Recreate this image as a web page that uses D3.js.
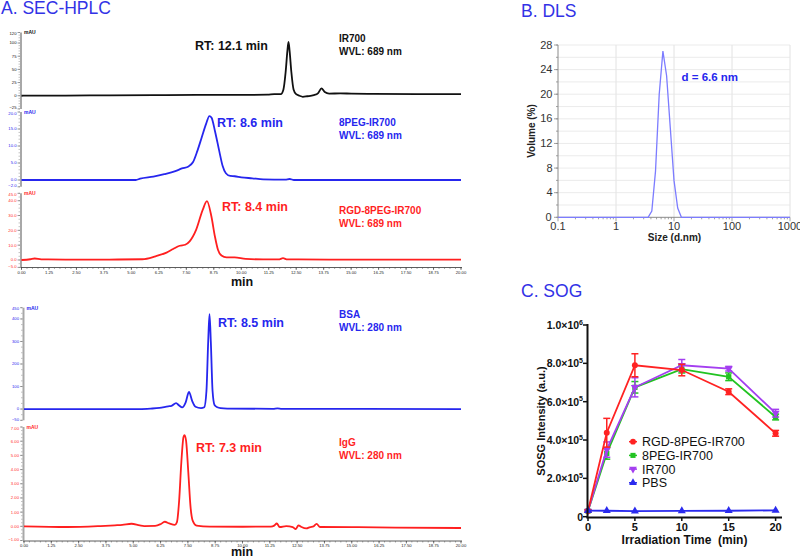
<!DOCTYPE html>
<html><head><meta charset="utf-8">
<script src="https://cdn.jsdelivr.net/npm/d3@7"></script>
<style>body{margin:0;background:#fff}svg{display:block}text{font-family:"Liberation Sans",Arial,sans-serif}</style>
</head><body><svg id="c" width="800" height="558"></svg>
<script>
// ---------- DATA ----------
// SEC-HPLC chromatograms: [time (min), signal (mAU)]
const ir700Trace = [[0,0],[2,0.3],[4,0.8],[6,1.2],[8,1.5],[10,1.5],[11.2,2],[11.5,3],[11.8,3],[11.92,12],[12.02,45],[12.1,85],[12.15,102],[12.2,85],[12.28,45],[12.38,12],[12.5,3],[12.65,0],[12.8,-2],[13.0,-1],[13.3,1],[13.5,5],[13.65,14],[13.8,7],[14.0,4],[14.5,4.5],[15,4],[16,3.5],[18,3],[20,3]];
const peg8Trace = [[0,0],[5.2,0],[5.4,0.4],[6.0,1.0],[6.5,1.7],[7.0,2.6],[7.3,3.4],[7.6,4.0],[7.8,5.2],[8.0,8.5],[8.2,12.5],[8.4,16.5],[8.55,18.8],[8.65,18.3],[8.8,14.5],[9.0,8.5],[9.15,4.2],[9.3,2.0],[9.5,1.2],[9.7,1.1],[10.0,0.8],[10.5,0.5],[11,0.2],[12,0.1],[12.2,0.3],[12.4,0],[20,0]];
const rgdTrace = [[0,0],[0.4,0.5],[0.6,1.0],[0.9,0.4],[2,0.3],[4,0.3],[5.5,0.5],[6.1,2.5],[6.6,5],[6.9,7.4],[7.2,9.6],[7.45,10.3],[7.65,12.6],[7.95,20.5],[8.25,34],[8.44,39.7],[8.64,29.5],[8.8,16],[8.94,6.9],[9.1,3],[9.33,1.7],[9.7,1.7],[10.2,0.7],[11,0.4],[11.7,0.4],[11.9,1.2],[12.1,0.4],[14,0.3],[20,0.3]];
const bsaTrace = [[0,0],[5.3,0],[5.8,2],[6.2,5],[6.6,12],[6.75,14],[6.96,26],[7.1,16],[7.24,7],[7.4,30],[7.55,76],[7.7,35],[7.85,10],[8.1,4],[8.25,8],[8.35,80],[8.43,300],[8.49,421],[8.55,300],[8.63,80],[8.72,18],[8.85,8],[9.0,4],[9.3,2],[11.4,1],[11.6,3],[11.8,1],[20,0]];
const iggTrace = [[0,0],[2,-0.05],[3.5,0.02],[4.16,0.07],[4.5,0.1],[4.92,0.18],[5.3,0.06],[5.5,0.02],[6.0,0.03],[6.25,0.15],[6.44,0.32],[6.65,0.2],[6.9,0.1],[7.0,0.3],[7.1,1.8],[7.2,4.5],[7.3,6.3],[7.35,6.43],[7.42,6.0],[7.52,3.8],[7.62,1.4],[7.72,0.4],[7.9,0.05],[8.5,-0.02],[10,-0.03],[11.3,-0.02],[11.45,0.05],[11.57,0.2],[11.7,-0.05],[12.0,0.02],[12.3,-0.05],[12.44,-0.2],[12.56,0.07],[12.7,-0.05],[12.92,-0.15],[13.1,-0.05],[13.25,0.0],[13.39,0.17],[13.55,-0.05],[15,-0.06],[17,-0.09],[20,-0.12]];
const hplcXTicks = [0,1.25,2.5,3.75,5,6.25,7.5,8.75,10,11.25,12.5,13.75,15,16.25,17.5,18.75,20];
const ir700YTicks = [-25,0,25,50,75,100,120];
const peg8YTicks = [-2,0,5,10,15,20];
const rgdYTicks = [-5,0,10,20,30,40,45];
const bsaYTicks = [-50,0,100,200,300,400,450];
const iggYTicks = [-1,0,1,2,3,4,5,6,7];

// DLS size distribution
const dlsSize = [0.1, 3.58, 4.145, 4.801, 5.56, 6.439, 7.456, 8.635, 10.0, 11.58, 13.41, 15.54, 1000];
const dlsVolume = [0, 0, 1.0, 7.5, 20.0, 27.0, 23.0, 14.5, 6.0, 1.5, 0, 0, 0];
const dlsXTicks = [0.1, 1, 10, 100, 1000];
const dlsYTicks = [0, 4, 8, 12, 16, 20, 24, 28];

// SOG
const sogTime = [0, 2, 5, 10, 15, 20];
const sogNames = ["RGD-8PEG-IR700", "8PEG-IR700", "IR700", "PBS"];
const rgdMean = [3.0e4, 4.38e5, 7.9e5, 7.65e5, 6.52e5, 4.35e5];
const rgdErr  = [0.5e4, 0.75e5, 0.6e5, 0.3e5, 0.15e5, 0.15e5];
const peg8Mean = [3.0e4, 3.3e5, 6.75e5, 7.7e5, 7.3e5, 5.2e5];
const peg8Err  = [0.5e4, 0.3e5, 0.3e5, 0.2e5, 0.2e5, 0.15e5];
const ir700Mean = [3.0e4, 3.5e5, 6.75e5, 7.9e5, 7.72e5, 5.4e5];
const ir700Err  = [0.5e4, 0.4e5, 0.5e5, 0.3e5, 0.12e5, 0.2e5];
const pbsMean = [3.2e4, 3.1e4, 2.9e4, 3.0e4, 3.1e4, 3.3e4];
const pbsErr  = [0, 0, 0, 0, 0, 0];
const sogYTicks = [0, 2e5, 4e5, 6e5, 8e5, 1e6];

// ---------- DRAW ----------
const svg = d3.select("#c");
const BLUE = "#2626ee", RED = "#ff1f1f", BLACK = "#111";
const TITLE = "#3232e6";

function title(x, y, t) {
  svg.append("text").attr("x", x).attr("y", y).attr("font-size", 17.5).attr("fill", TITLE).text(t);
}
title(1, 13.5, "A. SEC-HPLC");
title(521, 16.5, "B. DLS");
title(521, 296.5, "C. SOG");

// HPLC panels
const hplcPanels = [
  {data: ir700Trace, color: BLACK, dom: [-25,120], rng: [108.9,32.5], ticks: ir700YTicks, fmt: d3.format("d"), minor: 5, x0: 21.5,
   rt: "RT: 12.1 min", rtx: 195, rty: 50, name: "IR700", wvl: "WVL: 689 nm", ny: 41.5},
  {data: peg8Trace, color: BLUE, dom: [-2,20], rng: [186.8,112], ticks: peg8YTicks, fmt: d3.format(".1f"), minor: 1, x0: 21.5,
   rt: "RT: 8.6 min", rtx: 217, rty: 127, name: "8PEG-IR700", wvl: "WVL: 689 nm", ny: 125.5},
  {data: rgdTrace, color: RED, dom: [-5,45], rng: [267.4,193.3], ticks: rgdYTicks, fmt: d3.format(".1f"), minor: 2.5, x0: 21.5,
   rt: "RT: 8.4 min", rtx: 222, rty: 211, name: "RGD-8PEG-IR700", wvl: "WVL: 689 nm", ny: 213.5},
  {data: bsaTrace, color: BLUE, dom: [-50,450], rng: [420.3,307.7], ticks: bsaYTicks, fmt: d3.format("d"), minor: 25, x0: 24,
   rt: "RT: 8.5 min", rtx: 218, rty: 326.5, name: "BSA", wvl: "WVL: 280 nm", ny: 317.5},
  {data: iggTrace, color: RED, dom: [-1,7], rng: [540.5,427], ticks: iggYTicks, fmt: d3.format(".2f"), minor: 0.25, x0: 24,
   rt: "RT: 7.3 min", rtx: 196, rty: 452, name: "IgG", wvl: "WVL: 280 nm", ny: 445.5}
];

hplcPanels.forEach(p => {
  const x = d3.scaleLinear().domain([0,20]).range([p.x0, 461]);
  const y = d3.scaleLinear().domain(p.dom).range(p.rng);
  const g = svg.append("g");
  g.append("line").attr("x1", p.x0 - 0.5).attr("x2", p.x0 - 0.5).attr("y1", p.rng[0]).attr("y2", p.rng[1])
    .attr("stroke", "#a8a8a8").attr("stroke-width", 2);
  const minors = d3.range(p.dom[0], p.dom[1] + 1e-9, p.minor);
  g.selectAll(".mn").data(minors).join("line").attr("x1", p.x0 - 3).attr("x2", p.x0 - 1.5)
    .attr("y1", d => y(d)).attr("y2", d => y(d)).attr("stroke", "#888").attr("stroke-width", 0.5);
  g.selectAll(".mj").data(p.ticks).join("line").attr("x1", p.x0 - 4).attr("x2", p.x0 - 1.5)
    .attr("y1", d => y(d)).attr("y2", d => y(d)).attr("stroke", "#666").attr("stroke-width", 0.6);
  const lo = p.ticks[0], hi = p.ticks[p.ticks.length - 1];
  g.selectAll(".tl").data(p.ticks).join("text").attr("x", p.x0 - 5)
    .attr("y", d => y(d) + (d === lo ? 0.2 : d === hi ? 2.6 : 1.4))
    .attr("text-anchor", "end").attr("font-size", 4.2).attr("fill", p.color).text(d => p.fmt(d));
  g.append("text").attr("x", p.x0 + 2.5).attr("y", p.rng[1] + 1.8).attr("font-size", 5).attr("font-weight", "bold")
    .attr("fill", p.color).text("mAU");
  const line = d3.line().x(d => x(d[0])).y(d => y(d[1])).curve(d3.curveMonotoneX);
  g.append("path").datum(p.data).attr("d", line).attr("fill", "none").attr("stroke", p.color).attr("stroke-width", 1.8);
  g.append("text").attr("x", p.rtx).attr("y", p.rty).attr("font-size", 12.5).attr("font-weight", "bold").attr("fill", p.color).text(p.rt);
  g.append("text").attr("x", 339).attr("y", p.ny).attr("font-size", 10).attr("font-weight", "bold").attr("fill", p.color).text(p.name);
  g.append("text").attr("x", 339).attr("y", p.ny + 13).attr("font-size", 10).attr("font-weight", "bold").attr("fill", p.color).text(p.wvl);
});

function hplcXAxis(x0, yAxis, minY, lblOff) {
  const x = d3.scaleLinear().domain([0,20]).range([x0, 461]);
  const g = svg.append("g");
  g.append("line").attr("x1", x0 - 1).attr("x2", 462).attr("y1", yAxis).attr("y2", yAxis).attr("stroke", "#333").attr("stroke-width", 0.8);
  g.selectAll(".mn").data(d3.range(0, 20.0001, 0.25)).join("line").attr("x1", d => x(d)).attr("x2", d => x(d))
    .attr("y1", yAxis).attr("y2", yAxis + 1.5).attr("stroke", "#555").attr("stroke-width", 0.5);
  g.selectAll(".mj").data(hplcXTicks).join("line").attr("x1", d => x(d)).attr("x2", d => x(d))
    .attr("y1", yAxis).attr("y2", yAxis + 2.5).attr("stroke", "#333").attr("stroke-width", 0.6);
  g.selectAll(".tl").data(hplcXTicks).join("text").attr("x", d => x(d)).attr("y", yAxis + lblOff)
    .attr("text-anchor", "middle").attr("font-size", 4.2).attr("fill", "#222").text(d => d3.format(".2f")(d));
  g.append("text").attr("x", 242).attr("y", minY).attr("text-anchor", "middle").attr("font-size", 12.5)
    .attr("font-weight", "bold").attr("fill", "#111").text("min");
}
hplcXAxis(21.5, 267.5, 286, 6.2);
hplcXAxis(24, 541, 556, 5.6);

// ---------- DLS ----------
{
  const x = d3.scaleLog().domain([0.1, 1000]).range([558, 790]);
  const y = d3.scaleLinear().domain([0, 28]).range([217.3, 45]);
  const g = svg.append("g");
  const vGrid = [];
  [0.1, 1, 10, 100].forEach(dec => { for (let k = 2; k <= 9; k++) vGrid.push(dec * k); });
  g.selectAll(".vg").data([1, 10, 100, 1000]).join("line").attr("x1", d => x(d)).attr("x2", d => x(d))
    .attr("y1", y(28)).attr("y2", y(0)).attr("stroke", "#e2e2e2").attr("stroke-width", 1);
  g.selectAll(".hg").data(d3.range(2, 28.1, 2)).join("line").attr("x1", x(0.1)).attr("x2", x(1000))
    .attr("y1", d => y(d)).attr("y2", d => y(d)).attr("stroke", "#e6e6e6").attr("stroke-width", 0.8);
  g.append("line").attr("x1", x(0.1)).attr("x2", x(0.1)).attr("y1", y(28)).attr("y2", y(0)).attr("stroke", "#8a8a8a").attr("stroke-width", 1);
  g.append("line").attr("x1", x(0.1)).attr("x2", x(1000)).attr("y1", y(0)).attr("y2", y(0)).attr("stroke", "#8a8a8a").attr("stroke-width", 1);
  g.selectAll(".xm").data(vGrid).join("line").attr("x1", d => x(d)).attr("x2", d => x(d))
    .attr("y1", y(0)).attr("y2", y(0) + 2).attr("stroke", "#8a8a8a").attr("stroke-width", 0.8);
  g.selectAll(".xM").data(dlsXTicks).join("line").attr("x1", d => x(d)).attr("x2", d => x(d))
    .attr("y1", y(0)).attr("y2", y(0) + 4).attr("stroke", "#8a8a8a").attr("stroke-width", 0.8);
  g.selectAll(".ym").data(d3.range(0, 28.1, 2)).join("line").attr("x1", x(0.1) - 2).attr("x2", x(0.1))
    .attr("y1", d => y(d)).attr("y2", d => y(d)).attr("stroke", "#8a8a8a").attr("stroke-width", 0.8);
  g.selectAll(".yM").data(dlsYTicks).join("line").attr("x1", x(0.1) - 4).attr("x2", x(0.1))
    .attr("y1", d => y(d)).attr("y2", d => y(d)).attr("stroke", "#8a8a8a").attr("stroke-width", 0.8);
  g.selectAll(".xl").data(dlsXTicks).join("text").attr("x", d => x(d)).attr("y", y(0) + 13)
    .attr("text-anchor", "middle").attr("font-size", 11).attr("fill", "#333").text(d => String(d));
  g.selectAll(".yl").data(dlsYTicks).join("text").attr("x", d => d === 0 ? x(0.1) - 6.5 : x(0.1) - 5.5).attr("y", d => y(d) + 3.5)
    .attr("text-anchor", "end").attr("font-size", 11).attr("fill", "#333").text(d => d);
  g.append("text").attr("transform", `translate(535,131) rotate(-90)`).attr("text-anchor", "middle")
    .attr("font-size", 10).attr("font-weight", "bold").attr("fill", "#222").text("Volume (%)");
  g.append("text").attr("x", 674.5).attr("y", 240.5).attr("text-anchor", "middle")
    .attr("font-size", 10).attr("font-weight", "bold").attr("fill", "#222").text("Size (d.nm)");
  const pts = dlsSize.map((s, i) => [s, dlsVolume[i]]);
  g.append("path").datum(pts).attr("d", d3.line().x(d => x(d[0])).y(d => y(d[1])))
    .attr("fill", "none").attr("stroke", "#7c7cff").attr("stroke-width", 1.3);
  g.append("text").attr("x", 681.5).attr("y", 81).attr("font-size", 11.5).attr("font-weight", "bold")
    .attr("fill", BLUE).text("d = 6.6 nm");
}

// ---------- SOG ----------
{
  const x = d3.scaleLinear().domain([0, 20]).range([588, 775.6]);
  const y = d3.scaleLinear().domain([0, 1e6]).range([516.7, 325]);
  const g = svg.append("g");
  const series = [
    {name: sogNames[1], mean: peg8Mean, err: peg8Err, color: "#22c322", sym: d3.symbolSquare, rot: 0},
    {name: sogNames[2], mean: ir700Mean, err: ir700Err, color: "#a43ff0", sym: d3.symbolTriangle, rot: 180},
    {name: sogNames[0], mean: rgdMean, err: rgdErr, color: "#ff2222", sym: d3.symbolCircle, rot: 0},
    {name: sogNames[3], mean: pbsMean, err: pbsErr, color: "#2a2aee", sym: d3.symbolTriangle, rot: 0}
  ];
  series.forEach(s => {
    const pts = sogTime.map((t, i) => ({t, m: s.mean[i], e: s.err[i]}));
    g.append("path").datum(pts).attr("d", d3.line().x(d => x(d.t)).y(d => y(d.m)))
      .attr("fill", "none").attr("stroke", s.color).attr("stroke-width", 1.8);
    pts.filter(d => d.e > 0).forEach(d => {
      g.append("line").attr("x1", x(d.t)).attr("x2", x(d.t)).attr("y1", y(d.m - d.e)).attr("y2", y(d.m + d.e))
        .attr("stroke", s.color).attr("stroke-width", 1.5);
      [d.m - d.e, d.m + d.e].forEach(v => g.append("line").attr("x1", x(d.t) - 3.5).attr("x2", x(d.t) + 3.5)
        .attr("y1", y(v)).attr("y2", y(v)).attr("stroke", s.color).attr("stroke-width", 1.5));
    });
    g.selectAll(null).data(pts).join("path").attr("d", d3.symbol().type(s.sym).size(28))
      .attr("transform", d => `translate(${x(d.t)},${y(d.m)}) rotate(${s.rot})`).attr("fill", s.color);
  });
  g.append("line").attr("x1", 587.5).attr("x2", 587.5).attr("y1", y(1e6) - 1).attr("y2", 518.3).attr("stroke", "#111").attr("stroke-width", 2);
  g.append("line").attr("x1", 586.5).attr("x2", 782).attr("y1", 517.5).attr("y2", 517.5).attr("stroke", "#111").attr("stroke-width", 2);
  g.selectAll(".yt").data(sogYTicks).join("line").attr("x1", 583).attr("x2", 587).attr("y1", d => y(d)).attr("y2", d => y(d))
    .attr("stroke", "#111").attr("stroke-width", 1.5);
  g.selectAll(".xt").data([0, 5, 10, 15, 20]).join("line").attr("x1", d => x(d)).attr("x2", d => x(d))
    .attr("y1", 517.5).attr("y2", 521).attr("stroke", "#111").attr("stroke-width", 1.5);
  g.selectAll(".xl").data([0, 5, 10, 15, 20]).join("text").attr("x", d => x(d)).attr("y", 531)
    .attr("text-anchor", "middle").attr("font-size", 11).attr("font-weight", "bold").attr("fill", "#111").text(d => d);
  const yl = g.selectAll(".yl").data(sogYTicks).join("text").attr("x", 583).attr("y", d => y(d) + 4)
    .attr("text-anchor", "end").attr("font-size", 10.5).attr("font-weight", "bold").attr("fill", "#111");
  yl.each(function(d) {
    const t = d3.select(this);
    if (d === 0) { t.text("0"); return; }
    const exp = Math.floor(Math.log10(d));
    const mant = d / Math.pow(10, exp);
    t.append("tspan").text(mant.toFixed(1) + "\u00d710");
    t.append("tspan").attr("dy", -4.5).attr("font-size", 7).text(exp);
  });
  g.append("text").attr("transform", "translate(545,421) rotate(-90)").attr("text-anchor", "middle")
    .attr("font-size", 11).attr("font-weight", "bold").attr("fill", "#111").text("SOSG Intensity (a.u.)");
  g.append("text").attr("x", 684.5).attr("y", 543.5).attr("text-anchor", "middle").attr("font-size", 12)
    .attr("font-weight", "bold").attr("fill", "#111").attr("xml:space", "preserve").text("Irradiation Time  (min)");
  const legOrder = [series[2], series[0], series[1], series[3]];
  legOrder.forEach((s, i) => {
    const ly = 441.7 + i * 13.7;
    g.append("line").attr("x1", 629).attr("x2", 637).attr("y1", ly).attr("y2", ly).attr("stroke", s.color).attr("stroke-width", 1.5);
    g.append("path").attr("d", d3.symbol().type(s.sym).size(26)).attr("transform", `translate(633,${ly}) rotate(${s.rot})`).attr("fill", s.color);
    g.append("text").attr("x", 642).attr("y", ly + 4.6).attr("font-size", 12.5).attr("fill", "#111").text(s.name);
  });
}
</script></body></html>
